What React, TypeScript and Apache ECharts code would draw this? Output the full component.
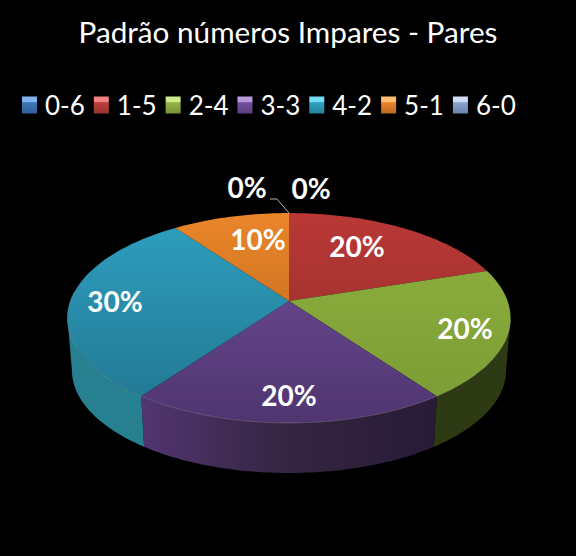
import React, { useEffect, useRef } from "react";
import * as echarts from "echarts";

const CATEGORIES = ["0-6", "1-5", "2-4", "3-3", "4-2", "5-1", "6-0"];
const VALUES = [0, 20, 20, 20, 30, 10, 0];
const TITLE = "Padrão números Impares - Pares";

const FONT = "Lato, Carlito, 'Open Sans', sans-serif";
const CX = 289, CY = 301, A = 218.6, B = 102.2, K = 0.162;
const BOTTOM_SCALE = 0.98, BOTTOM_CY = 353.5;
const WALL_FROM = 99.3, WALL_TO = 260.7;

const LEGEND_COLORS: string[][] = [
  ["#7fb2ee", "#3f77b8", "#2f5f98"],
  ["#f08080", "#bf3f3c", "#963230"],
  ["#cfe98a", "#93b548", "#759139"],
  ["#b79ade", "#7350a0", "#5b3f80"],
  ["#72dcf5", "#31a3c0", "#26829a"],
  ["#ffbe72", "#ea862c", "#bc6a22"],
  ["#cfdcf5", "#8aa3cf", "#6e83a8"],
];
const TOP_COLORS: string[][] = [
  ["#4f81bd", "#3a6595"],
  ["#b93836", "#8f2c2a"],
  ["#90b23e", "#7a9a35"],
  ["#72509a", "#4f3570"],
  ["#2fa0c0", "#20758f"],
  ["#ea8529", "#b3641d"],
  ["#8aa3cf", "#6e83a8"],
];
const SIDE_COLORS: string[][] = [
  ["#2c4d75", "#253f60", "#1f3854"],
  ["#6e1f1e", "#601b1a", "#521716"],
  ["#40541a", "#3a4b18", "#2d3a13"],
  ["#523572", "#34243f", "#281b38"],
  ["#27808f", "#237c92", "#1c6c84"],
  ["#9c5516", "#8b4c14", "#7a4211"],
  ["#5c6c8a", "#505e7a", "#46536b"],
];
const LABEL_POS: [number, number][] = [
  [311, 188], [357, 246], [465, 328], [289, 395], [115, 301], [258, 239], [247, 187],
];
const LEADER: number[][] = [[270, 199], [277, 199], [289, 213]];

const project = (deg: number, bottom: boolean): number[] => {
  const t = (deg * Math.PI) / 180;
  const u = Math.sin(t), v = Math.cos(t), w = 1 + K * v;
  const dx = (A * u) / w, dy = (-B * v) / w;
  return bottom
    ? [CX + BOTTOM_SCALE * dx, BOTTOM_CY + BOTTOM_SCALE * dy]
    : [CX + dx, CY + dy];
};

const arcPoints = (a0: number, a1: number, bottom: boolean): number[][] => {
  const n = Math.max(2, Math.ceil((a1 - a0) / 1.5));
  const pts: number[][] = [];
  for (let i = 0; i <= n; i++) pts.push(project(a0 + ((a1 - a0) * i) / n, bottom));
  return pts;
};

const TOTAL = VALUES.reduce((s, v) => s + v, 0);

const renderSlice = (params: any, api: any) => {
  const i = params.seriesIndex;
  const value = api.value(0);
  const before = VALUES.slice(0, i).reduce((s, v) => s + v, 0);
  const a0 = (before / TOTAL) * 360;
  const a1 = ((before + value) / TOTAL) * 360;
  const children: any[] = [];
  if (value > 0) {
    const w0 = Math.max(a0, WALL_FROM), w1 = Math.min(a1, WALL_TO);
    if (w1 > w0) {
      children.push({
        type: "polygon",
        z2: 1,
        shape: { points: [...arcPoints(w0, w1, false), ...arcPoints(w0, w1, true).reverse()] },
        style: {
          fill: new echarts.graphic.LinearGradient(140, 0, 440, 0, [
            { offset: 0, color: SIDE_COLORS[i][0] },
            { offset: 0.5, color: SIDE_COLORS[i][1] },
            { offset: 1, color: SIDE_COLORS[i][2] },
          ], true),
        },
      });
    }
    children.push({
      type: "polygon",
      z2: 2,
      shape: { points: [[CX, CY], ...arcPoints(a0, a1, false)] },
      style: {
        fill: new echarts.graphic.LinearGradient(0, 213, 0, 423, [
          { offset: 0, color: TOP_COLORS[i][0] },
          { offset: 1, color: TOP_COLORS[i][1] },
        ], true),
      },
    });
    const f0 = Math.max(a0, 100), f1 = Math.min(a1, 275);
    if (f1 > f0) {
      children.push({
        type: "polyline",
        z2: 3,
        shape: { points: arcPoints(f0, f1, false) },
        style: { fill: "none", stroke: "rgba(255,255,255,0.18)", lineWidth: 1 },
      });
    }
  }
  if (value === 0 && i === VALUES.length - 1) {
    children.push({
      type: "polyline",
      z2: 4,
      shape: { points: LEADER },
      style: { fill: "none", stroke: "#b0b0b0", lineWidth: 1 },
    });
  }
  children.push({
    type: "text",
    z2: 5,
    style: {
      x: LABEL_POS[i][0],
      y: LABEL_POS[i][1],
      text: `${Math.round((value / TOTAL) * 100)}%`,
      fill: "#ffffff",
      font: `bold 28px ${FONT}`,
      align: "center",
      verticalAlign: "middle",
    },
  });
  return { type: "group", children };
};

export default function App() {
  const ref = useRef<HTMLDivElement>(null);
  useEffect(() => {
    const chart = echarts.init(ref.current!, undefined, { renderer: "svg" });
    chart.setOption({
      animation: false,
      backgroundColor: "#000000",
      title: {
        text: TITLE,
        left: "center",
        top: 11,
        textStyle: { color: "#ffffff", fontFamily: FONT, fontSize: 29.7, fontWeight: "normal" },
      },
      legend: {
        left: 17,
        top: 87,
        itemWidth: 15,
        itemHeight: 17,
        itemGap: 9,
        icon: "rect",
        textStyle: { color: "#ffffff", fontFamily: FONT, fontSize: 26, padding: [0, 0, 0, 3] },
        selectedMode: false,
        data: CATEGORIES.map((name, i) => ({
          name,
          itemStyle: {
            color: new echarts.graphic.LinearGradient(0, 0, 0, 1, [
              { offset: 0, color: LEGEND_COLORS[i][0] },
              { offset: 0.3, color: LEGEND_COLORS[i][0] },
              { offset: 0.36, color: LEGEND_COLORS[i][1] },
              { offset: 1, color: LEGEND_COLORS[i][2] },
            ]),
          },
        })),
      },
      series: CATEGORIES.map((name, i) => ({
        type: "custom",
        name,
        coordinateSystem: "none",
        silent: true,
        itemStyle: { color: LEGEND_COLORS[i][1] },
        renderItem: renderSlice,
        data: [[VALUES[i]]],
      })),
    });
    return () => chart.dispose();
  }, []);
  return (
    <div
      ref={ref}
      style={{ position: "fixed", left: 0, top: 0, width: 576, height: 556, background: "#000" }}
    />
  );
}
